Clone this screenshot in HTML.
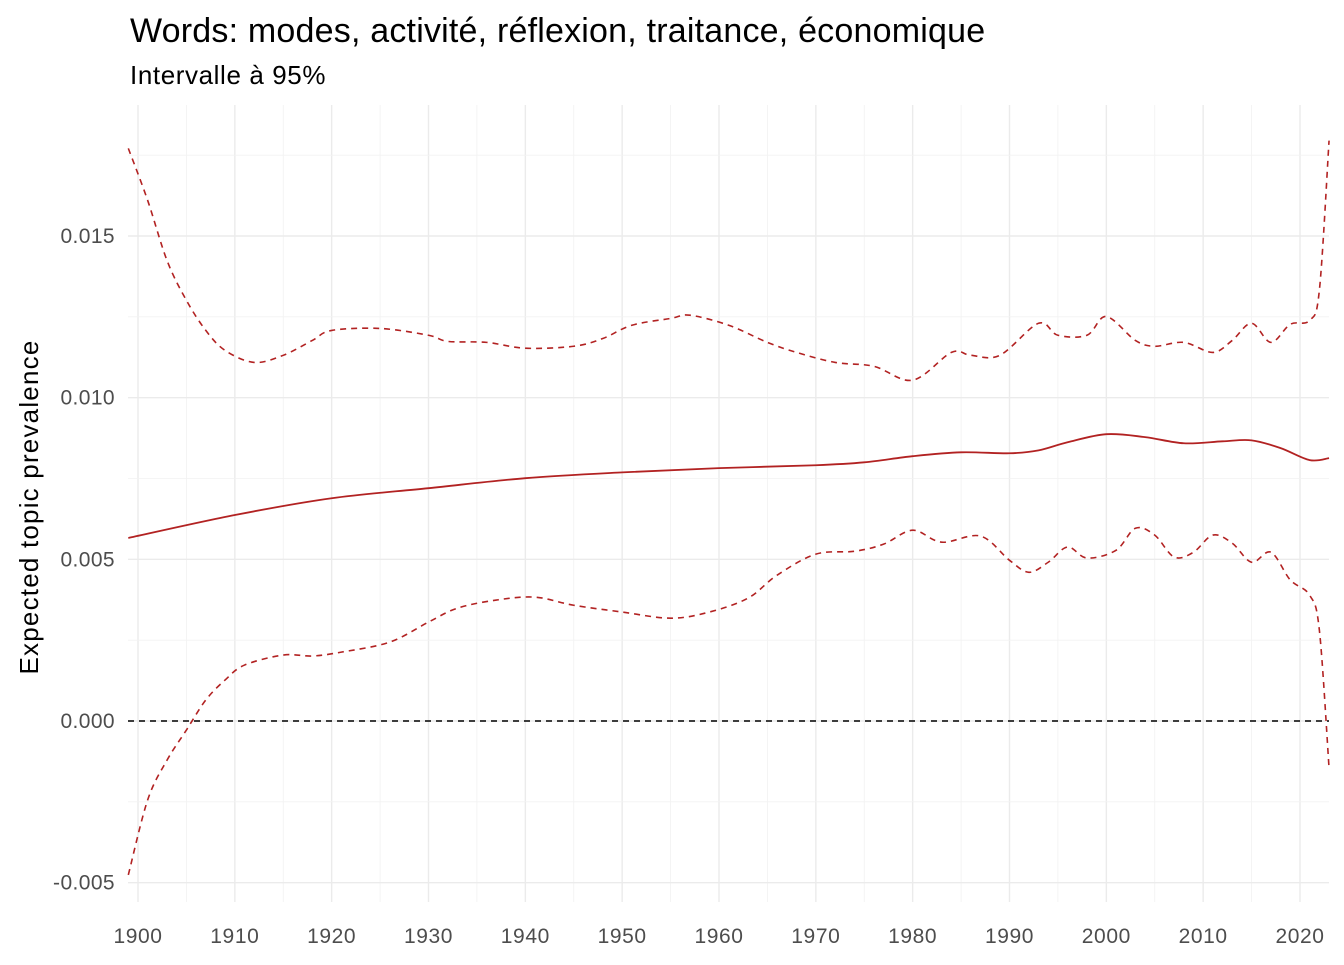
<!DOCTYPE html>
<html><head><meta charset="utf-8"><style>
body{margin:0;background:#fff;font-family:"Liberation Sans",sans-serif}
svg text{font-family:"Liberation Sans",sans-serif}
</style></head><body>
<svg id="c" width="1344" height="960" xmlns="http://www.w3.org/2000/svg">
<text x="130" y="42" font-size="34" letter-spacing="0.2" fill="#000">Words: modes, activité, réflexion, traitance, économique</text>
<text x="130" y="84" font-size="26" letter-spacing="0.6" fill="#000">Intervalle à 95%</text>
<text transform="translate(38,507) rotate(-90)" text-anchor="middle" font-size="26" letter-spacing="1.2" fill="#000">Expected topic prevalence</text>
<g id="grid"></g><g id="marks"></g><g id="ticks"></g>
</svg>
<script>
const xTicks=[1900,1910,1920,1930,1940,1950,1960,1970,1980,1990,2000,2010,2020];
const yTicks=[-0.005,0,0.005,0.010,0.015];
const yTickLabels=["-0.005","0.000","0.005","0.010","0.015"];
const years=[1899,1910,1920,1930,1940,1950,1960,1970,1975,1980,1985,1990,1993,1996,2000,2004,2008,2012,2015,2018,2021,2023];
const meanVals=[.00566,.00637,.00689,.00720,.00751,.00769,.00782,.00791,.00800,.00819,.00831,.00828,.00837,.00862,.00887,.00878,.00859,.00865,.00868,.00844,.00807,.00813];
const upYears=[1899,1901,1903,1905,1907,1909,1912,1915,1918,1920,1925,1930,1932,1936,1940,1945,1948,1951,1955,1957,1961,1965,1968,1972,1976,1980,1984,1986,1989,1993,1995,1998,2000,2003,2005,2008,2011,2013,2015,2017,2019,2021,2022,2023];
const upVals=[.01771,.01610,.01424,.01301,.01208,.01146,.01109,.01131,.01177,.01208,.01214,.01193,.01174,.01171,.01153,.01159,.01183,.01224,.01245,.01255,.01224,.01171,.01140,.01109,.01097,.01054,.01140,.01131,.01131,.01230,.01193,.01193,.01251,.01177,.01159,.01171,.01140,.01177,.01230,.01171,.01227,.01239,.01332,.01795];
const loYears=[1899,1901,1903,1905,1907,1909,1911,1915,1918,1921,1926,1930,1933,1937,1941,1945,1950,1955,1959,1963,1966,1970,1974,1977,1980,1983,1987,1990,1992,1994,1996,1998,2001,2003,2005,2007,2009,2011,2013,2015,2017,2019,2021,2022,2023];
const loVals=[-.00476,-.00244,-.00121,-.00028,.00065,.00127,.00173,.00204,.00201,.00213,.00244,.00306,.00349,.00374,.00383,.00358,.00337,.00318,.00337,.00380,.00451,.00516,.00525,.00547,.00590,.00553,.00572,.00497,.00460,.00491,.00538,.00504,.00528,.00596,.00575,.00507,.00522,.00575,.00550,.00491,.00522,.00436,.00389,.00281,-.00145];
const NS="http://www.w3.org/2000/svg";
const X=v=>138+(v-1900)*(1300-138)/120;
const Y=v=>721-v*(721-236)/0.015;
const L=128,R=1329,T=105,B=902;
function mk(tag,attrs,parent){const e=document.createElementNS(NS,tag);for(const k in attrs)e.setAttribute(k,attrs[k]);document.getElementById(parent).appendChild(e);return e;}
for(let i=0;i<xTicks.length;i++){
 const x=X(xTicks[i]);
 const g=mk('line',{x1:x,x2:x,y1:T,y2:B,stroke:'#ebebeb','stroke-width':1.4},'grid');
 
 
 const xm=X(xTicks[i]+5);
 if(xm<R){const m=mk('line',{x1:xm,x2:xm,y1:T,y2:B,stroke:'#f2f2f2','stroke-width':0.8},'grid');
 
 }
 const t=mk('text',{x:x,y:943,'text-anchor':'middle','font-size':21,'letter-spacing':0.6,fill:'#4d4d4d'},'ticks');
 t.textContent=xTicks[i];
 
 
}
for(let i=0;i<yTicks.length;i++){
 const y=Y(yTicks[i]);
 const g=mk('line',{x1:L,x2:R,y1:y,y2:y,stroke:'#ebebeb','stroke-width':1.4},'grid');
 
 
 const ym=Y(yTicks[i]+0.0025);
 if(ym>T){const m=mk('line',{x1:L,x2:R,y1:ym,y2:ym,stroke:'#f2f2f2','stroke-width':0.8},'grid');
 
 }
 const t=mk('text',{x:115,y:y+7,'text-anchor':'end','font-size':21,'letter-spacing':0.4,fill:'#4d4d4d'},'ticks');
 t.textContent=yTickLabels[i];
 
 
}
function smooth(xs,ys){
 const p=xs.map((x,i)=>[X(x),Y(ys[i])]);
 let d=`M${p[0][0]},${p[0][1]}`;
 for(let i=0;i<p.length-1;i++){
  const p0=p[Math.max(0,i-1)],p1=p[i],p2=p[i+1],p3=p[Math.min(p.length-1,i+2)];
  const c1=[p1[0]+(p2[0]-p0[0])/6,p1[1]+(p2[1]-p0[1])/6];
  const c2=[p2[0]-(p3[0]-p1[0])/6,p2[1]-(p3[1]-p1[1])/6];
  d+=` C${c1[0]},${c1[1]} ${c2[0]},${c2[1]} ${p2[0]},${p2[1]}`;
 }
 return d;
}
const z=mk('line',{x1:L,x2:R,y1:Y(0),y2:Y(0),stroke:'#000','stroke-width':1.6,'stroke-dasharray':'6,5'},'marks');


const up=mk('path',{d:smooth(upYears,upVals),fill:'none',stroke:'#b22222','stroke-width':1.6,'stroke-dasharray':'6,5'},'marks');


const lo=mk('path',{d:smooth(loYears,loVals),fill:'none',stroke:'#b22222','stroke-width':1.6,'stroke-dasharray':'6,5'},'marks');


const mn=mk('path',{d:smooth(years,meanVals),fill:'none',stroke:'#b22222','stroke-width':1.8},'marks');


</script>
</body></html>
